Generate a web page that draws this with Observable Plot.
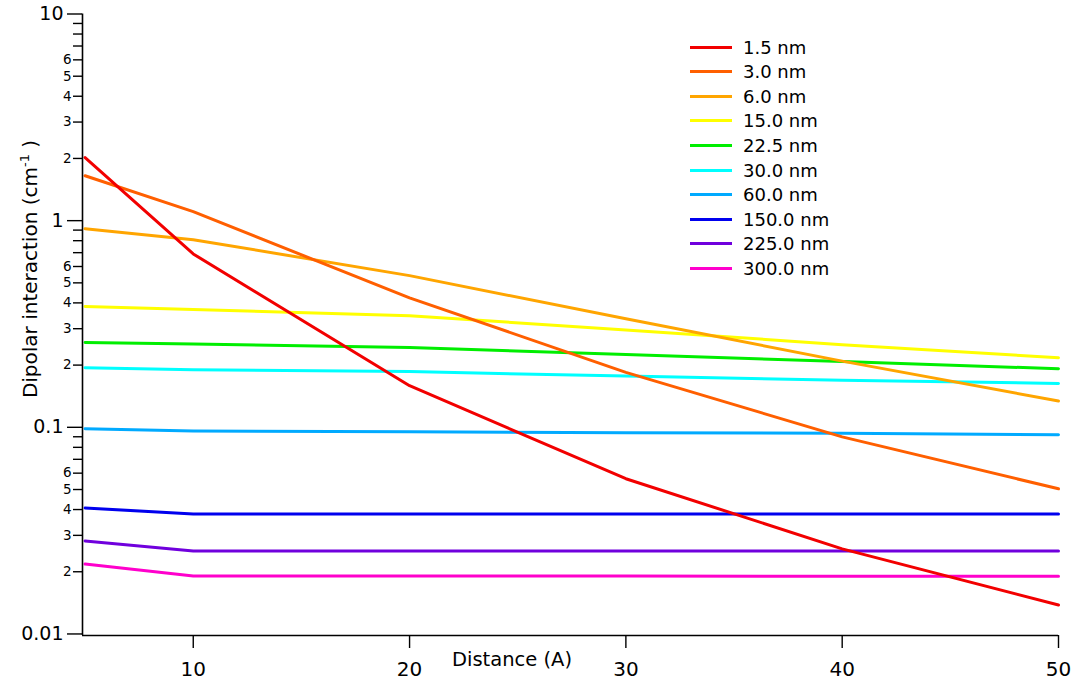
<!DOCTYPE html>
<html><head><meta charset="utf-8">
<script src="https://cdn.jsdelivr.net/npm/d3@7"></script>
<script src="https://cdn.jsdelivr.net/npm/@observablehq/plot@0.6"></script>
<style>
body{margin:0;background:#fff;font-family:"DejaVu Sans",sans-serif;color:#000}
#wrap{position:relative;width:1074px;height:686px;overflow:hidden}
#wrap svg{position:absolute;left:0;top:0}
.ylab{position:absolute;left:30px;top:269px;transform:translate(-50%,-50%) rotate(-90deg);white-space:nowrap;font-size:20px}
.ylab sup{font-size:13px;vertical-align:0.6em;line-height:0}
.xlab{position:absolute;left:512px;top:659px;transform:translate(-50%,-50%);white-space:nowrap;font-size:19.5px}
.legend{position:absolute;left:690px;top:0}
.legend .row{position:absolute;left:0;height:24px;display:flex;align-items:center;white-space:nowrap;font-size:18px}
.legend .sw{display:inline-block;width:42px;height:3px;margin-right:11px}
</style></head><body><div id="wrap"></div>
<script>
const distances = [5, 10, 20, 30, 40, 50];
const sizes = ["1.5 nm","3.0 nm","6.0 nm","15.0 nm","22.5 nm","30.0 nm","60.0 nm","150.0 nm","225.0 nm","300.0 nm"];
const colors = ["#f20000","#ff5f00","#ffa500","#ffff00","#00ee00","#00ffff","#00aaff","#0000ee","#7000dd","#ff00cc"];
const v1_5   = [2.02, 0.69, 0.159, 0.0564, 0.0258, 0.0138];
const v3_0   = [1.65, 1.105, 0.423, 0.1845, 0.0899, 0.0504];
const v6_0   = [0.914, 0.809, 0.542, 0.335, 0.209, 0.134];
const v15_0  = [0.384, 0.372, 0.347, 0.296, 0.251, 0.217];
const v22_5  = [0.257, 0.253, 0.243, 0.225, 0.208, 0.192];
const v30_0  = [0.194, 0.190, 0.186, 0.177, 0.169, 0.163];
const v60_0  = [0.0984, 0.096, 0.0952, 0.0942, 0.0935, 0.092];
const v150_0 = [0.0407, 0.0381, 0.0381, 0.0381, 0.0381, 0.0381];
const v225_0 = [0.0282, 0.0252, 0.0252, 0.0252, 0.0252, 0.0252];
const v300_0 = [0.0218, 0.0191, 0.0191, 0.0191, 0.0190, 0.0190];
const seriesValues = [v1_5, v3_0, v6_0, v15_0, v22_5, v30_0, v60_0, v150_0, v225_0, v300_0];
const xTicks = [10, 20, 30, 40, 50];
const yMajor = [0.01, 0.1, 1, 10];

const rows = [];
for (let s = seriesValues.length - 1; s >= 0; s--) {
  seriesValues[s].forEach((v, i) => rows.push({series: sizes[s], d: distances[i], v}));
}
const yMinor = [];
for (const dec of [0.01, 0.1, 1]) for (let k = 2; k <= 9; k++) yMinor.push(+(k * dec).toPrecision(3));

const xDom = [4.88, 50];
const yDom = [0.00983, 10];

const chart = Plot.plot({
  width: 1074, height: 686,
  marginLeft: 82, marginRight: 16, marginTop: 13.5, marginBottom: 51,
  style: {fontFamily: "DejaVu Sans, sans-serif", color: "#000", background: "transparent"},
  x: {domain: xDom, label: null},
  y: {type: "log", domain: yDom, label: null},
  color: {domain: sizes, range: colors},
  marks: [
    Plot.axisY(yMajor, {tickSize: 15, tickPadding: 4, fontSize: 19, strokeWidth: 1.4, tickFormat: d => String(d), label: null}),
    Plot.axisY(yMinor, {tickSize: 9, tickPadding: 2, fontSize: 13.5, strokeWidth: 1.4, label: null,
      tickFormat: d => { const k = Math.round(d / Math.pow(10, Math.floor(Math.log10(d) + 1e-9))); return k <= 6 ? String(k) : ""; }}),
    Plot.axisX(xTicks, {tickSize: 13, tickPadding: 13, fontSize: 20, strokeWidth: 1.4, label: null}),
    Plot.lineY(rows, {x: "d", y: "v", z: "series", stroke: "series", strokeWidth: d => 3, strokeLinejoin: "round"}),
    Plot.ruleX([xDom[0]], {strokeWidth: 1.6}),
    Plot.ruleY([yDom[0]], {strokeWidth: 1.6})
  ]
});
const wrap = document.getElementById("wrap");
wrap.appendChild(chart);

const yl = document.createElement("div");
yl.className = "ylab";
yl.innerHTML = "Dipolar interaction (cm<sup>-1</sup> )";
wrap.appendChild(yl);
const xl = document.createElement("div");
xl.className = "xlab";
xl.textContent = "Distance (A)";
wrap.appendChild(xl);

const lg = document.createElement("div");
lg.className = "legend";
sizes.forEach((s, i) => {
  const r = document.createElement("div");
  r.className = "row";
  r.style.top = (35 + i * 24.6) + "px";
  r.innerHTML = `<span class="sw" style="background:${colors[i]}"></span><span>${s}</span>`;
  lg.appendChild(r);
});
wrap.appendChild(lg);
</script>
</body></html>
